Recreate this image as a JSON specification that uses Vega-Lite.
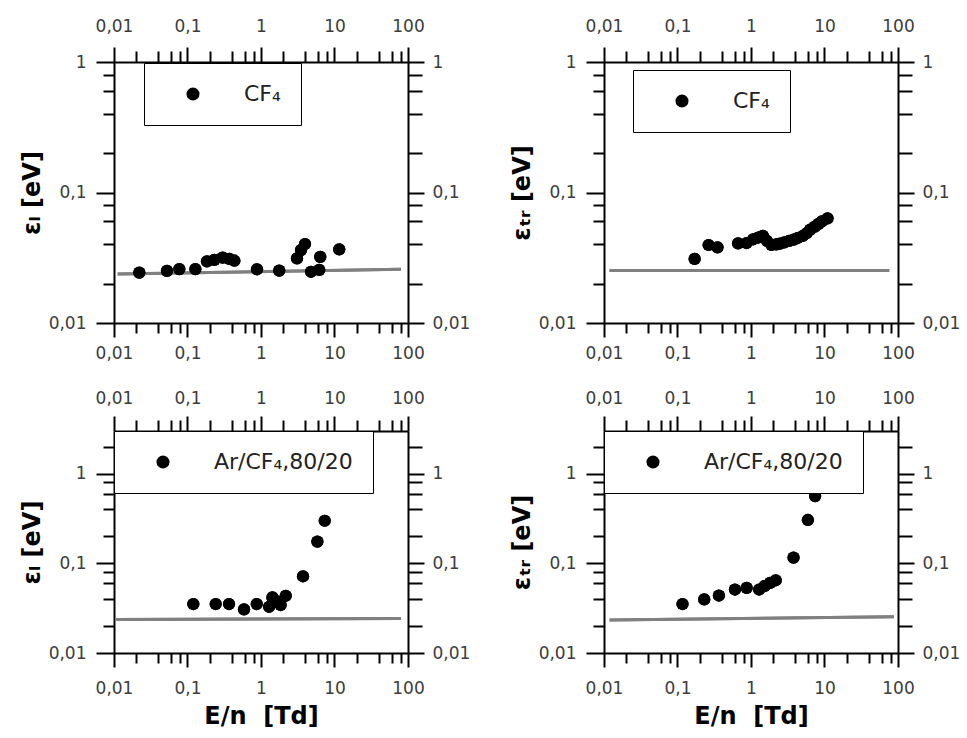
{
  "$schema": "https://vega.github.io/schema/vega-lite/v6.json",
  "background": "white",
  "padding": {"left": 20, "top": 17, "right": 5, "bottom": 5},
  "config": {
    "view": {"stroke": null},
    "axis": {
      "grid": false,
      "domainColor": "black",
      "domainWidth": 2,
      "ticks": true,
      "tickColor": "black",
      "tickOpacity": 1,
      "tickWidth": 2,
      "labelFont": "DejaVu Sans",
      "labelFontSize": 17,
      "labelColor": "#3c3c3c",
      "labelOverlap": false,
      "labelFlush": false,
      "titleFont": "DejaVu Sans",
      "titleFontWeight": "bold",
      "titleColor": "black"
    },
    "legend": {
      "orient": "none",
      "strokeColor": "black",
      "fillColor": "white",
      "padding": 20,
      "symbolType": "circle",
      "symbolSize": 170,
      "symbolFillColor": "black",
      "symbolStrokeWidth": 0,
      "symbolOffset": 18,
      "labelOffset": 40,
      "labelFont": "DejaVu Sans",
      "labelFontSize": 22,
      "labelColor": "#222222",
      "labelLimit": 400
    }
  },
  "datasets": {
    "tl_pts": [
      {"en": 0.0221, "eps": 0.0243, "gas": "CF₄"},
      {"en": 0.0526, "eps": 0.0251, "gas": "CF₄"},
      {"en": 0.0774, "eps": 0.0259, "gas": "CF₄"},
      {"en": 0.128, "eps": 0.0259, "gas": "CF₄"},
      {"en": 0.184, "eps": 0.0297, "gas": "CF₄"},
      {"en": 0.232, "eps": 0.0305, "gas": "CF₄"},
      {"en": 0.301, "eps": 0.0317, "gas": "CF₄"},
      {"en": 0.371, "eps": 0.031, "gas": "CF₄"},
      {"en": 0.434, "eps": 0.03, "gas": "CF₄"},
      {"en": 0.883, "eps": 0.0258, "gas": "CF₄"},
      {"en": 1.77, "eps": 0.0252, "gas": "CF₄"},
      {"en": 3.09, "eps": 0.0313, "gas": "CF₄"},
      {"en": 3.5, "eps": 0.0362, "gas": "CF₄"},
      {"en": 3.97, "eps": 0.0403, "gas": "CF₄"},
      {"en": 4.79, "eps": 0.0247, "gas": "CF₄"},
      {"en": 6.2, "eps": 0.0255, "gas": "CF₄"},
      {"en": 6.4, "eps": 0.0321, "gas": "CF₄"},
      {"en": 11.6, "eps": 0.0367, "gas": "CF₄"}
    ],
    "tl_line": [
      {"en": 0.0112, "eps": 0.0237},
      {"en": 80, "eps": 0.0258}
    ],
    "tr_pts": [
      {"en": 0.171, "eps": 0.031, "gas": "CF₄"},
      {"en": 0.265, "eps": 0.0396, "gas": "CF₄"},
      {"en": 0.35, "eps": 0.038, "gas": "CF₄"},
      {"en": 0.667, "eps": 0.0408, "gas": "CF₄"},
      {"en": 0.87, "eps": 0.041, "gas": "CF₄"},
      {"en": 1.07, "eps": 0.0438, "gas": "CF₄"},
      {"en": 1.25, "eps": 0.0452, "gas": "CF₄"},
      {"en": 1.45, "eps": 0.0466, "gas": "CF₄"},
      {"en": 1.65, "eps": 0.0425, "gas": "CF₄"},
      {"en": 1.9, "eps": 0.0396, "gas": "CF₄"},
      {"en": 2.2, "eps": 0.04, "gas": "CF₄"},
      {"en": 2.47, "eps": 0.0406, "gas": "CF₄"},
      {"en": 2.85, "eps": 0.0415, "gas": "CF₄"},
      {"en": 3.3, "eps": 0.0425, "gas": "CF₄"},
      {"en": 3.8, "eps": 0.0435, "gas": "CF₄"},
      {"en": 4.3, "eps": 0.0448, "gas": "CF₄"},
      {"en": 5.1, "eps": 0.0466, "gas": "CF₄"},
      {"en": 5.7, "eps": 0.0487, "gas": "CF₄"},
      {"en": 6.4, "eps": 0.052, "gas": "CF₄"},
      {"en": 7.4, "eps": 0.0547, "gas": "CF₄"},
      {"en": 8.3, "eps": 0.0575, "gas": "CF₄"},
      {"en": 9.2, "eps": 0.06, "gas": "CF₄"},
      {"en": 11, "eps": 0.0634, "gas": "CF₄"}
    ],
    "tr_line": [
      {"en": 0.0119, "eps": 0.0252},
      {"en": 76, "eps": 0.0252}
    ],
    "bl_pts": [
      {"en": 0.12, "eps": 0.0352, "gas": "Ar/CF₄,80/20"},
      {"en": 0.242, "eps": 0.0352, "gas": "Ar/CF₄,80/20"},
      {"en": 0.367, "eps": 0.0352, "gas": "Ar/CF₄,80/20"},
      {"en": 0.588, "eps": 0.0307, "gas": "Ar/CF₄,80/20"},
      {"en": 0.875, "eps": 0.0352, "gas": "Ar/CF₄,80/20"},
      {"en": 1.29, "eps": 0.0328, "gas": "Ar/CF₄,80/20"},
      {"en": 1.43, "eps": 0.0417, "gas": "Ar/CF₄,80/20"},
      {"en": 1.6, "eps": 0.038, "gas": "Ar/CF₄,80/20"},
      {"en": 1.85, "eps": 0.0343, "gas": "Ar/CF₄,80/20"},
      {"en": 2.17, "eps": 0.0435, "gas": "Ar/CF₄,80/20"},
      {"en": 3.73, "eps": 0.0718, "gas": "Ar/CF₄,80/20"},
      {"en": 5.85, "eps": 0.175, "gas": "Ar/CF₄,80/20"},
      {"en": 7.36, "eps": 0.299, "gas": "Ar/CF₄,80/20"}
    ],
    "bl_line": [
      {"en": 0.0103, "eps": 0.0237},
      {"en": 80, "eps": 0.0243}
    ],
    "br_pts": [
      {"en": 0.117, "eps": 0.0352, "gas": "Ar/CF₄,80/20"},
      {"en": 0.231, "eps": 0.0396, "gas": "Ar/CF₄,80/20"},
      {"en": 0.366, "eps": 0.0438, "gas": "Ar/CF₄,80/20"},
      {"en": 0.605, "eps": 0.0511, "gas": "Ar/CF₄,80/20"},
      {"en": 0.873, "eps": 0.0532, "gas": "Ar/CF₄,80/20"},
      {"en": 1.29, "eps": 0.0511, "gas": "Ar/CF₄,80/20"},
      {"en": 1.52, "eps": 0.0556, "gas": "Ar/CF₄,80/20"},
      {"en": 1.82, "eps": 0.0605, "gas": "Ar/CF₄,80/20"},
      {"en": 2.17, "eps": 0.0648, "gas": "Ar/CF₄,80/20"},
      {"en": 3.79, "eps": 0.116, "gas": "Ar/CF₄,80/20"},
      {"en": 5.94, "eps": 0.305, "gas": "Ar/CF₄,80/20"},
      {"en": 7.46, "eps": 0.564, "gas": "Ar/CF₄,80/20"}
    ],
    "br_line": [
      {"en": 0.0119, "eps": 0.0233},
      {"en": 88, "eps": 0.0253}
    ]
  },
  "columns": 2,
  "bounds": "flush",
  "spacing": {"row": 108, "column": 196},
  "resolve": {
    "scale": {"x": "independent", "y": "independent", "color": "independent"},
    "axis": {"x": "independent", "y": "independent"},
    "legend": {"color": "independent"}
  },
  "concat": [
    {
      "width": 294,
      "height": 261,
      "resolve": {"axis": {"x": "independent", "y": "independent"}},
      "layer": [
        {
          "data": {"name": "tl_line"},
          "mark": {"type": "line", "color": "#808080", "strokeWidth": 3},
          "encoding": {
            "x": {"field": "en", "type": "quantitative", "scale": {"type": "log", "domain": [0.01, 100]},
              "axis": {"orient": "top", "title": null, "values": [0.01, 0.1, 1, 10, 100], "labelExpr": "replace(format(datum.value, '~g'), '.', ',')", "tickSize": 15, "labelPadding": 12}},
            "y": {"field": "eps", "type": "quantitative", "scale": {"type": "log", "domain": [0.01, 1]},
              "axis": {"orient": "right", "title": null, "values": [0.01, 0.1, 1], "labelExpr": "replace(format(datum.value, '~g'), '.', ',')", "tickSize": 16, "labelPadding": 8}}
          }
        },
        {
          "data": {"name": "tl_line"},
          "mark": {"type": "line", "color": "#808080", "strokeWidth": 3},
          "encoding": {
            "x": {"field": "en", "type": "quantitative", "scale": {"type": "log", "domain": [0.01, 100]},
              "axis": {"orient": "top", "title": null, "values": [0.02,0.04,0.06,0.08,0.2,0.4,0.6,0.8,2,4,6,8,20,40,60,80], "labels": false, "domain": false, "tickSize": 11}},
            "y": {"field": "eps", "type": "quantitative", "scale": {"type": "log", "domain": [0.01, 1]},
              "axis": {"orient": "right", "title": null, "values": [0.02,0.04,0.06,0.08,0.2,0.4,0.6,0.8], "labels": false, "domain": false, "tickSize": 14}}
          }
        },
        {
          "data": {"name": "tl_pts"},
          "mark": {"type": "point", "filled": true, "size": 150, "opacity": 1, "strokeWidth": 0},
          "encoding": {
            "x": {"field": "en", "type": "quantitative", "scale": {"type": "log", "domain": [0.01, 100]},
              "axis": {"orient": "bottom", "title": null, "values": [0.01, 0.1, 1, 10, 100], "labelExpr": "replace(format(datum.value, '~g'), '.', ',')", "tickSize": 14, "labelPadding": 8}},
            "y": {"field": "eps", "type": "quantitative", "scale": {"type": "log", "domain": [0.01, 1]},
              "axis": {"orient": "left", "title": "εₗ [eV]", "titleFontSize": 24, "titlePadding": 4, "values": [0.01, 0.1, 1], "labelExpr": "replace(format(datum.value, '~g'), '.', ',')", "tickSize": 18, "labelPadding": 10}},
            "color": {"field": "gas", "type": "nominal", "scale": {"range": ["black"]},
              "legend": {"title": null, "orient": "none", "legendX": 30, "legendY": 1}}
          }
        },
        {
          "data": {"name": "tl_pts"},
          "mark": {"type": "point", "filled": true, "size": 150, "opacity": 1, "strokeWidth": 0, "color": "black"},
          "encoding": {
            "x": {"field": "en", "type": "quantitative", "scale": {"type": "log", "domain": [0.01, 100]},
              "axis": {"orient": "bottom", "title": null, "values": [0.02,0.04,0.06,0.08,0.2,0.4,0.6,0.8,2,4,6,8,20,40,60,80], "labels": false, "domain": false, "tickSize": 10}},
            "y": {"field": "eps", "type": "quantitative", "scale": {"type": "log", "domain": [0.01, 1]},
              "axis": {"orient": "left", "title": null, "values": [0.02,0.04,0.06,0.08,0.2,0.4,0.6,0.8], "labels": false, "domain": false, "tickSize": 11}}
          }
        }
      ]
    },
    {
      "width": 294,
      "height": 261,
      "resolve": {"axis": {"x": "independent", "y": "independent"}},
      "layer": [
        {
          "data": {"name": "tr_line"},
          "mark": {"type": "line", "color": "#808080", "strokeWidth": 3},
          "encoding": {
            "x": {"field": "en", "type": "quantitative", "scale": {"type": "log", "domain": [0.01, 100]},
              "axis": {"orient": "top", "title": null, "values": [0.01, 0.1, 1, 10, 100], "labelExpr": "replace(format(datum.value, '~g'), '.', ',')", "tickSize": 15, "labelPadding": 12}},
            "y": {"field": "eps", "type": "quantitative", "scale": {"type": "log", "domain": [0.01, 1]},
              "axis": {"orient": "right", "title": null, "values": [0.01, 0.1, 1], "labelExpr": "replace(format(datum.value, '~g'), '.', ',')", "tickSize": 16, "labelPadding": 8}}
          }
        },
        {
          "data": {"name": "tr_line"},
          "mark": {"type": "line", "color": "#808080", "strokeWidth": 3},
          "encoding": {
            "x": {"field": "en", "type": "quantitative", "scale": {"type": "log", "domain": [0.01, 100]},
              "axis": {"orient": "top", "title": null, "values": [0.02,0.04,0.06,0.08,0.2,0.4,0.6,0.8,2,4,6,8,20,40,60,80], "labels": false, "domain": false, "tickSize": 11}},
            "y": {"field": "eps", "type": "quantitative", "scale": {"type": "log", "domain": [0.01, 1]},
              "axis": {"orient": "right", "title": null, "values": [0.02,0.04,0.06,0.08,0.2,0.4,0.6,0.8], "labels": false, "domain": false, "tickSize": 14}}
          }
        },
        {
          "data": {"name": "tr_pts"},
          "mark": {"type": "point", "filled": true, "size": 150, "opacity": 1, "strokeWidth": 0},
          "encoding": {
            "x": {"field": "en", "type": "quantitative", "scale": {"type": "log", "domain": [0.01, 100]},
              "axis": {"orient": "bottom", "title": null, "values": [0.01, 0.1, 1, 10, 100], "labelExpr": "replace(format(datum.value, '~g'), '.', ',')", "tickSize": 14, "labelPadding": 8}},
            "y": {"field": "eps", "type": "quantitative", "scale": {"type": "log", "domain": [0.01, 1]},
              "axis": {"orient": "left", "title": "εₜᵣ [eV]", "titleFontSize": 24, "titlePadding": 4, "values": [0.01, 0.1, 1], "labelExpr": "replace(format(datum.value, '~g'), '.', ',')", "tickSize": 18, "labelPadding": 10}},
            "color": {"field": "gas", "type": "nominal", "scale": {"range": ["black"]},
              "legend": {"title": null, "orient": "none", "legendX": 29, "legendY": 8}}
          }
        },
        {
          "data": {"name": "tr_pts"},
          "mark": {"type": "point", "filled": true, "size": 150, "opacity": 1, "strokeWidth": 0, "color": "black"},
          "encoding": {
            "x": {"field": "en", "type": "quantitative", "scale": {"type": "log", "domain": [0.01, 100]},
              "axis": {"orient": "bottom", "title": null, "values": [0.02,0.04,0.06,0.08,0.2,0.4,0.6,0.8,2,4,6,8,20,40,60,80], "labels": false, "domain": false, "tickSize": 10}},
            "y": {"field": "eps", "type": "quantitative", "scale": {"type": "log", "domain": [0.01, 1]},
              "axis": {"orient": "left", "title": null, "values": [0.02,0.04,0.06,0.08,0.2,0.4,0.6,0.8], "labels": false, "domain": false, "tickSize": 11}}
          }
        }
      ]
    },
    {
      "width": 294,
      "height": 222,
      "resolve": {"axis": {"x": "independent", "y": "independent"}},
      "layer": [
        {
          "data": {"name": "bl_line"},
          "mark": {"type": "line", "color": "#808080", "strokeWidth": 3},
          "encoding": {
            "x": {"field": "en", "type": "quantitative", "scale": {"type": "log", "domain": [0.01, 100]},
              "axis": {"orient": "top", "title": null, "values": [0.01, 0.1, 1, 10, 100], "labelExpr": "replace(format(datum.value, '~g'), '.', ',')", "tickSize": 15, "labelPadding": 9}},
            "y": {"field": "eps", "type": "quantitative", "scale": {"type": "log", "domain": [0.01, 3]},
              "axis": {"orient": "right", "title": null, "values": [0.01, 0.1, 1], "labelExpr": "replace(format(datum.value, '~g'), '.', ',')", "tickSize": 16, "labelPadding": 8}}
          }
        },
        {
          "data": {"name": "bl_line"},
          "mark": {"type": "line", "color": "#808080", "strokeWidth": 3},
          "encoding": {
            "x": {"field": "en", "type": "quantitative", "scale": {"type": "log", "domain": [0.01, 100]},
              "axis": {"orient": "top", "title": null, "values": [0.02,0.04,0.06,0.08,0.2,0.4,0.6,0.8,2,4,6,8,20,40,60,80], "labels": false, "domain": false, "tickSize": 11}},
            "y": {"field": "eps", "type": "quantitative", "scale": {"type": "log", "domain": [0.01, 3]},
              "axis": {"orient": "right", "title": null, "values": [0.02,0.04,0.06,0.08,0.2,0.4,0.6,0.8,2], "labels": false, "domain": false, "tickSize": 14}}
          }
        },
        {
          "data": {"name": "bl_pts"},
          "mark": {"type": "point", "filled": true, "size": 150, "opacity": 1, "strokeWidth": 0},
          "encoding": {
            "x": {"field": "en", "type": "quantitative", "scale": {"type": "log", "domain": [0.01, 100]},
              "axis": {"orient": "bottom", "title": "E/n \u00a0[Td]", "titleFontSize": 24, "titlePadding": 8, "values": [0.01, 0.1, 1, 10, 100], "labelExpr": "replace(format(datum.value, '~g'), '.', ',')", "tickSize": 14, "labelPadding": 13}},
            "y": {"field": "eps", "type": "quantitative", "scale": {"type": "log", "domain": [0.01, 3]},
              "axis": {"orient": "left", "title": "εₗ [eV]", "titleFontSize": 24, "titlePadding": 4, "values": [0.01, 0.1, 1], "labelExpr": "replace(format(datum.value, '~g'), '.', ',')", "tickSize": 18, "labelPadding": 10}},
            "color": {"field": "gas", "type": "nominal", "scale": {"range": ["black"]},
              "legend": {"title": null, "orient": "none", "legendX": 0, "legendY": 0}}
          }
        },
        {
          "data": {"name": "bl_pts"},
          "mark": {"type": "point", "filled": true, "size": 150, "opacity": 1, "strokeWidth": 0, "color": "black"},
          "encoding": {
            "x": {"field": "en", "type": "quantitative", "scale": {"type": "log", "domain": [0.01, 100]},
              "axis": {"orient": "bottom", "title": null, "values": [0.02,0.04,0.06,0.08,0.2,0.4,0.6,0.8,2,4,6,8,20,40,60,80], "labels": false, "domain": false, "tickSize": 10}},
            "y": {"field": "eps", "type": "quantitative", "scale": {"type": "log", "domain": [0.01, 3]},
              "axis": {"orient": "left", "title": null, "values": [0.02,0.04,0.06,0.08,0.2,0.4,0.6,0.8,2], "labels": false, "domain": false, "tickSize": 11}}
          }
        }
      ]
    },
    {
      "width": 294,
      "height": 222,
      "resolve": {"axis": {"x": "independent", "y": "independent"}},
      "layer": [
        {
          "data": {"name": "br_line"},
          "mark": {"type": "line", "color": "#808080", "strokeWidth": 3},
          "encoding": {
            "x": {"field": "en", "type": "quantitative", "scale": {"type": "log", "domain": [0.01, 100]},
              "axis": {"orient": "top", "title": null, "values": [0.01, 0.1, 1, 10, 100], "labelExpr": "replace(format(datum.value, '~g'), '.', ',')", "tickSize": 15, "labelPadding": 9}},
            "y": {"field": "eps", "type": "quantitative", "scale": {"type": "log", "domain": [0.01, 3]},
              "axis": {"orient": "right", "title": null, "values": [0.01, 0.1, 1], "labelExpr": "replace(format(datum.value, '~g'), '.', ',')", "tickSize": 16, "labelPadding": 8}}
          }
        },
        {
          "data": {"name": "br_line"},
          "mark": {"type": "line", "color": "#808080", "strokeWidth": 3},
          "encoding": {
            "x": {"field": "en", "type": "quantitative", "scale": {"type": "log", "domain": [0.01, 100]},
              "axis": {"orient": "top", "title": null, "values": [0.02,0.04,0.06,0.08,0.2,0.4,0.6,0.8,2,4,6,8,20,40,60,80], "labels": false, "domain": false, "tickSize": 11}},
            "y": {"field": "eps", "type": "quantitative", "scale": {"type": "log", "domain": [0.01, 3]},
              "axis": {"orient": "right", "title": null, "values": [0.02,0.04,0.06,0.08,0.2,0.4,0.6,0.8,2], "labels": false, "domain": false, "tickSize": 14}}
          }
        },
        {
          "data": {"name": "br_pts"},
          "mark": {"type": "point", "filled": true, "size": 150, "opacity": 1, "strokeWidth": 0},
          "encoding": {
            "x": {"field": "en", "type": "quantitative", "scale": {"type": "log", "domain": [0.01, 100]},
              "axis": {"orient": "bottom", "title": "E/n \u00a0[Td]", "titleFontSize": 24, "titlePadding": 8, "values": [0.01, 0.1, 1, 10, 100], "labelExpr": "replace(format(datum.value, '~g'), '.', ',')", "tickSize": 14, "labelPadding": 13}},
            "y": {"field": "eps", "type": "quantitative", "scale": {"type": "log", "domain": [0.01, 3]},
              "axis": {"orient": "left", "title": "εₜᵣ [eV]", "titleFontSize": 24, "titlePadding": 4, "values": [0.01, 0.1, 1], "labelExpr": "replace(format(datum.value, '~g'), '.', ',')", "tickSize": 18, "labelPadding": 10}},
            "color": {"field": "gas", "type": "nominal", "scale": {"range": ["black"]},
              "legend": {"title": null, "orient": "none", "legendX": 0, "legendY": 0}}
          }
        },
        {
          "data": {"name": "br_pts"},
          "mark": {"type": "point", "filled": true, "size": 150, "opacity": 1, "strokeWidth": 0, "color": "black"},
          "encoding": {
            "x": {"field": "en", "type": "quantitative", "scale": {"type": "log", "domain": [0.01, 100]},
              "axis": {"orient": "bottom", "title": null, "values": [0.02,0.04,0.06,0.08,0.2,0.4,0.6,0.8,2,4,6,8,20,40,60,80], "labels": false, "domain": false, "tickSize": 10}},
            "y": {"field": "eps", "type": "quantitative", "scale": {"type": "log", "domain": [0.01, 3]},
              "axis": {"orient": "left", "title": null, "values": [0.02,0.04,0.06,0.08,0.2,0.4,0.6,0.8,2], "labels": false, "domain": false, "tickSize": 11}}
          }
        }
      ]
    }
  ]
}
